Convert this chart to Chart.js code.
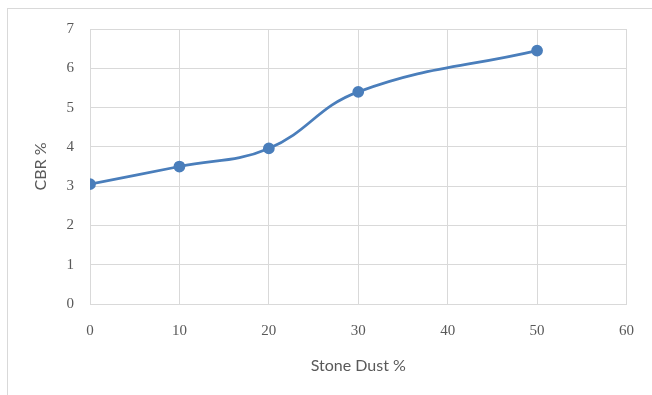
<!DOCTYPE html>
<html>
<head>
<meta charset="utf-8">
<script src="https://cdn.jsdelivr.net/npm/chart.js@4"></script>
<style>
  body { margin: 0; background: #fff; }
  #wrap { position: relative; width: 652px; height: 395px; }
  #frame { position: absolute; left: 7px; top: 8px; right: 0; bottom: 0;
           border-left: 1px solid #d9d9d9; border-top: 1px solid #d9d9d9; }
  canvas { position: absolute; left: 0; top: 0; }
</style>
</head>
<body>
<div id="wrap">
  <div id="frame"></div>
  <canvas id="chart" width="652" height="395"></canvas>
</div>
<script>
// stone dust content (%) and CBR values
const stoneDust = [0, 10, 20, 30, 50];
const cbr = [3.05, 3.5, 3.96, 5.4, 6.45];

const xTitle = "Stone Dust %";
const yTitle = "CBR %";

const points = stoneDust.map((x, i) => ({ x: x, y: cbr[i] }));

const tickFont = { family: "'Liberation Serif', serif", size: 15 };
const titleFont = { family: "Lato, sans-serif", size: 16 };

const ctx = document.getElementById("chart").getContext("2d");
const chart = new Chart(ctx, {
  type: "line",
  data: {
    datasets: [{
      data: points,
      borderColor: "#4a7ebb",
      backgroundColor: "#4a7ebb",
      borderWidth: 2.75,
      pointRadius: 4.5,
      pointHoverRadius: 4.5,
      tension: 0.42,
      fill: false,
    }],
  },
  options: {
    responsive: false,
    animation: false,
    layout: { padding: { top: 29, right: 25, bottom: 0, left: 0 } },
    plugins: { legend: { display: false }, tooltip: { enabled: false } },
    scales: {
      x: {
        type: "linear",
        min: 0,
        max: 60,
        ticks: { stepSize: 10, color: "#595959", font: tickFont, padding: 18 },
        grid: { color: "#d9d9d9", drawTicks: false },
        border: { color: "#d9d9d9" },
        title: { display: true, text: xTitle, color: "#595959", font: titleFont, padding: { top: 0, bottom: 20 } },
        afterFit: (s) => { s.height = 91; },
      },
      y: {
        min: 0,
        max: 7,
        ticks: { stepSize: 1, color: "#595959", font: tickFont, padding: 16 },
        grid: { color: "#d9d9d9", drawTicks: false },
        border: { color: "#d9d9d9" },
        title: { display: true, text: yTitle, color: "#595959", font: titleFont, padding: { top: 31, bottom: 0 } },
        afterFit: (s) => { s.width = 90; },
      },
    },
  },
});
</script>
</body>
</html>
